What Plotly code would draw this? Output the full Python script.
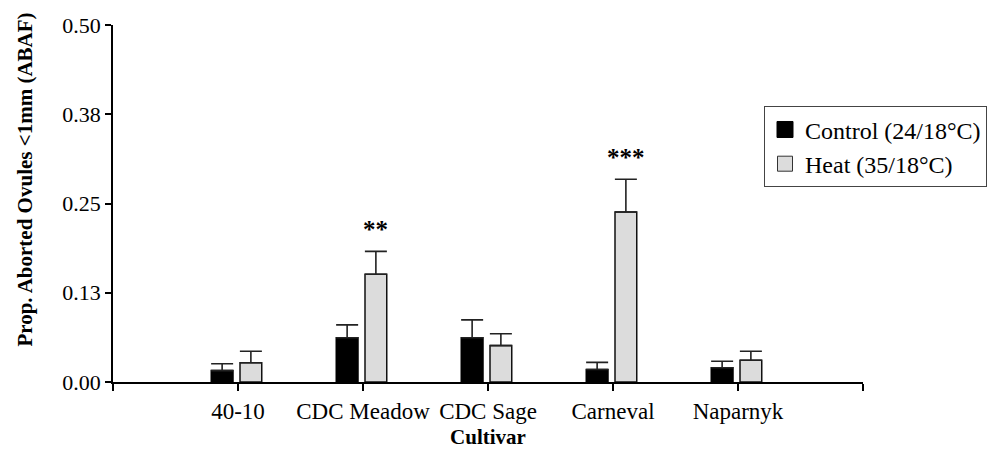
import plotly.graph_objects as go

# Proportion of aborted ovules (<1 mm) per cultivar, mean and standard error
cultivars = ["40-10", "CDC Meadow", "CDC Sage", "Carneval", "Naparnyk"]
control_mean = [0.016, 0.062, 0.062, 0.0175, 0.020]
control_se = [0.0095, 0.018, 0.025, 0.010, 0.009]
heat_mean = [0.027, 0.151, 0.051, 0.238, 0.0305]
heat_se = [0.016, 0.032, 0.0165, 0.046, 0.0125]
heat_sig = ["", "**", "", "***", ""]

y_ticks = [0.0, 0.125, 0.25, 0.375, 0.5]
y_tick_text = ["0.00", "0.13", "0.25", "0.38", "0.50"]

positions = list(range(1, len(cultivars) + 1))
x_max = len(cultivars) + 1

FONT = "Liberation Serif"
BAR_W = 0.174
CTRL_OFF = -0.214
HEAT_OFF = 0.016

fig = go.Figure()

fig.add_trace(go.Bar(
    x=positions, y=control_mean, width=BAR_W, offset=CTRL_OFF,
    marker=dict(color="black", line=dict(color="black", width=1.5)),
    error_y=dict(type="data", array=control_se, arrayminus=[0] * len(control_se),
                 symmetric=False, color="#222", thickness=1.6, width=11),
    showlegend=False, name="Control (24/18°C)",
))
fig.add_trace(go.Bar(
    x=positions, y=heat_mean, width=BAR_W, offset=HEAT_OFF,
    marker=dict(color="#dcdcdc", line=dict(color="#111", width=1.5)),
    error_y=dict(type="data", array=heat_se, arrayminus=[0] * len(heat_se),
                 symmetric=False, color="#222", thickness=1.6, width=11),
    showlegend=False, name="Heat (35/18°C)",
))

# Legend entries with square swatches
fig.add_trace(go.Scatter(
    x=[None], y=[None], mode="markers", name="Control (24/18°C)",
    marker=dict(symbol="square", size=16, color="black", line=dict(color="black", width=1)),
))
fig.add_trace(go.Scatter(
    x=[None], y=[None], mode="markers", name="Heat (35/18°C)",
    marker=dict(symbol="square", size=15, color="#dcdcdc", line=dict(color="#333", width=1)),
))

# Significance stars above the heat bars
for p, m, s, sig in zip(positions, heat_mean, heat_se, heat_sig):
    if sig:
        fig.add_annotation(
            x=p + HEAT_OFF + BAR_W / 2, y=m + s, text=f"<b>{sig}</b>",
            showarrow=False, yanchor="middle", yshift=22,
            font=dict(family=FONT, size=25, color="black"),
        )

# Y-axis title, placed as a rotated annotation
fig.add_annotation(
    xref="paper", yref="paper", x=0, y=0.567, xanchor="center", yanchor="middle",
    xshift=-88, textangle=-90, showarrow=False,
    text="<b>Prop. Aborted Ovules <1mm (ABAF)</b>",
    font=dict(family=FONT, size=21, color="black"),
)

fig.update_layout(
    width=1005, height=449,
    margin=dict(l=113, r=142, t=25, b=67),
    paper_bgcolor="white", plot_bgcolor="white",
    barmode="overlay",
    font=dict(family=FONT, color="black"),
    legend=dict(
        x=0.868, xanchor="left", y=0.772, yanchor="top",
        bordercolor="#444", borderwidth=1, bgcolor="white",
        font=dict(family=FONT, size=24, color="black"),
        itemsizing="trace",
    ),
    xaxis=dict(
        range=[0, x_max], tickmode="array",
        tickvals=[0] + positions + [x_max],
        ticktext=[""] + cultivars + [""],
        tickangle=0, ticks="outside", ticklen=7, tickwidth=1.5, tickcolor="black",
        showline=True, linecolor="black", linewidth=1.8,
        showgrid=False, zeroline=False, automargin=False,
        tickfont=dict(family=FONT, size=23, color="black"),
        title=dict(text="<b>Cultivar</b>", font=dict(family=FONT, size=21, color="black"),
                   standoff=12),
    ),
    yaxis=dict(
        range=[0, 0.5], tickmode="array", tickvals=y_ticks, ticktext=y_tick_text,
        ticks="outside", ticklen=6, tickwidth=1.5, tickcolor="black",
        showline=True, linecolor="black", linewidth=1.8,
        showgrid=False, zeroline=False, automargin=False,
        tickfont=dict(family=FONT, size=22, color="black"),
    ),
)

fig.write_html("out.html")
